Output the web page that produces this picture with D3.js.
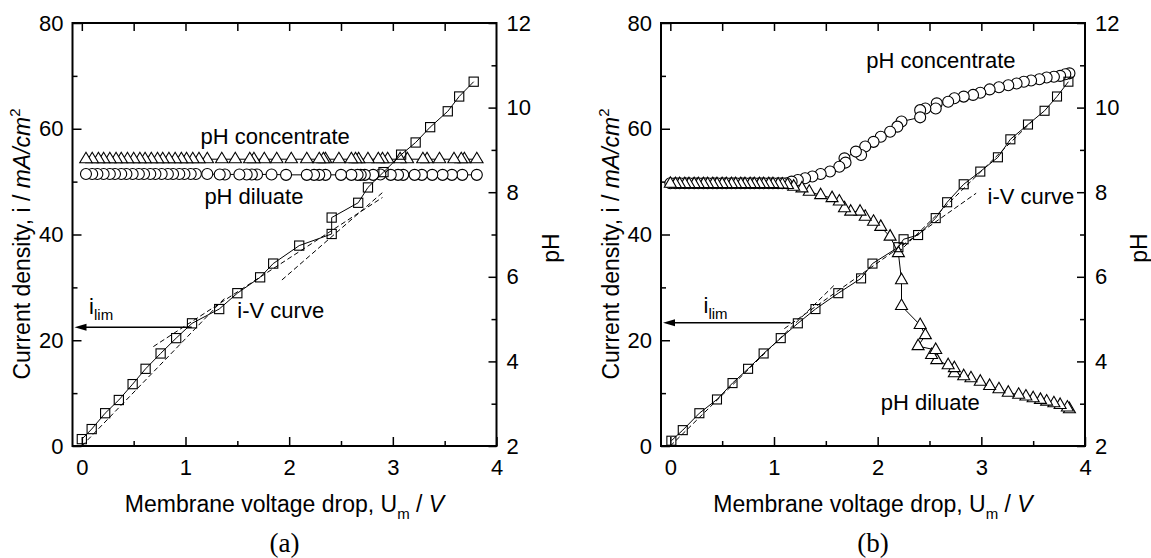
<!DOCTYPE html>
<html>
<head>
<meta charset="utf-8">
<script src="https://cdn.jsdelivr.net/npm/d3@7"></script>
<style>
  body { margin: 0; background: #fff; }
  svg { display: block; font-family: "Liberation Sans", Arial, sans-serif; }
</style>
</head>
<body>
<svg id="chart" width="1151" height="558"></svg>
<script>
// ---- panel (a) data ----
const ivA_U = [0.00, 0.095, 0.225, 0.357, 0.49, 0.615, 0.76, 0.91, 1.063, 1.325, 1.50, 1.72, 1.846, 2.097, 2.41, 2.41, 2.666, 2.76, 2.91, 3.08, 3.22, 3.36, 3.53, 3.64, 3.78]
const ivA_i = [1.3, 3.2, 6.2, 8.7, 11.7, 14.6, 17.5, 20.4, 23.2, 25.9, 28.9, 31.9, 34.5, 37.9, 40.1, 43.2, 46.0, 48.9, 51.8, 55.1, 57.4, 60.3, 63.3, 66.1, 68.9]

const concA_U = [0.04, 0.10, 0.16, 0.21, 0.27, 0.33, 0.38, 0.44, 0.50, 0.56, 0.61, 0.67, 0.73, 0.78, 0.84, 0.90, 0.96, 1.01, 1.07, 1.13,
  1.21, 1.35, 1.48, 1.62, 1.66, 1.76, 1.88, 2.02, 2.17, 2.29, 2.33, 2.35, 2.48, 2.60, 2.64, 2.67, 2.76, 2.86, 2.90, 2.95,
  3.07, 3.14, 3.29, 3.33, 3.45, 3.59, 3.66, 3.69, 3.81]
const concA_pH = [8.78, 8.78, 8.78, 8.78, 8.78, 8.78, 8.78, 8.78, 8.78, 8.78, 8.78, 8.78, 8.78, 8.78, 8.78, 8.78, 8.78, 8.78, 8.78, 8.78,
  8.78, 8.78, 8.78, 8.78, 8.78, 8.78, 8.78, 8.78, 8.78, 8.78, 8.78, 8.78, 8.78, 8.78, 8.78, 8.78, 8.78, 8.78, 8.78, 8.78,
  8.78, 8.78, 8.78, 8.78, 8.78, 8.78, 8.78, 8.78, 8.78]

const dilA_U = [0.04, 0.10, 0.15, 0.21, 0.27, 0.32, 0.38, 0.43, 0.49, 0.55, 0.60, 0.66, 0.71, 0.77, 0.83, 0.88, 0.94, 0.99, 1.05, 1.10,
  1.21, 1.33, 1.38, 1.52, 1.59, 1.64, 1.69, 1.83, 1.97, 2.17, 2.24, 2.29, 2.35, 2.50, 2.60, 2.66, 2.69, 2.73, 2.81, 2.88,
  2.98, 3.05, 3.10, 3.21, 3.28, 3.38, 3.48, 3.57, 3.67, 3.81]
const dilA_pH = [8.43, 8.43, 8.43, 8.43, 8.43, 8.43, 8.43, 8.43, 8.43, 8.43, 8.43, 8.43, 8.43, 8.43, 8.43, 8.43, 8.43, 8.43, 8.43, 8.43,
  8.43, 8.42, 8.42, 8.42, 8.42, 8.42, 8.42, 8.42, 8.41, 8.41, 8.41, 8.41, 8.41, 8.41, 8.41, 8.41, 8.41, 8.41, 8.41, 8.42,
  8.41, 8.41, 8.41, 8.41, 8.41, 8.41, 8.41, 8.41, 8.41, 8.41]

// tangent lines [U0, i0, U1, i1]
const tangentsA = [[0.0, 0.0, 1.38, 28.0], [0.69, 18.8, 2.90, 47.0], [1.93, 31.4, 2.91, 48.1]]
const ilimA = { U: 1.06, i: 22.45 }

// ---- panel (b) data ----
const ivB_U = [0.01, 0.12, 0.28, 0.45, 0.60, 0.75, 0.90, 1.065, 1.23, 1.40, 1.62, 1.84, 1.95, 2.20, 2.25, 2.39, 2.56, 2.67, 2.83, 2.99, 3.16, 3.28, 3.45, 3.61, 3.73, 3.84]
const ivB_i = [1.0, 3.0, 6.2, 8.8, 11.9, 14.6, 17.5, 20.4, 23.2, 25.9, 28.9, 31.7, 34.5, 37.6, 39.1, 39.9, 43.1, 46.1, 49.5, 51.9, 54.6, 58.0, 60.8, 63.4, 66.1, 68.9]

const concB_U = [0.00, 0.05, 0.09, 0.14, 0.18, 0.23, 0.27, 0.32, 0.36, 0.41, 0.45, 0.50, 0.54, 0.59, 0.63, 0.68, 0.72, 0.77, 0.81, 0.86, 0.90, 0.95, 0.99, 1.04, 1.08,
  1.12, 1.17, 1.23, 1.30, 1.37, 1.45, 1.54, 1.63, 1.69, 1.68, 1.79, 1.84, 1.88, 1.96, 2.03, 2.12, 2.19, 2.23, 2.41, 2.41, 2.46, 2.56, 2.57,
  2.68, 2.74, 2.83, 2.92, 2.99, 3.08, 3.17, 3.26, 3.34, 3.41, 3.48, 3.56, 3.63, 3.70, 3.76, 3.81, 3.85]
const concB_pH = [8.21, 8.21, 8.21, 8.21, 8.21, 8.21, 8.21, 8.21, 8.21, 8.21, 8.21, 8.21, 8.21, 8.21, 8.21, 8.21, 8.21, 8.21, 8.21, 8.21, 8.21, 8.21, 8.21, 8.21, 8.21,
  8.21, 8.25, 8.29, 8.33, 8.37, 8.43, 8.49, 8.60, 8.70, 8.80, 8.96, 8.88, 9.08, 9.19, 9.31, 9.43, 9.55, 9.67, 9.77, 9.94, 9.98, 9.98, 10.10,
  10.14, 10.22, 10.26, 10.30, 10.35, 10.43, 10.48, 10.53, 10.57, 10.61, 10.64, 10.67, 10.71, 10.73, 10.75, 10.79, 10.81]

const dilB_U = [0.00, 0.05, 0.09, 0.14, 0.18, 0.23, 0.27, 0.32, 0.36, 0.41, 0.45, 0.50, 0.54, 0.59, 0.63, 0.68, 0.72, 0.77, 0.81, 0.86, 0.90, 0.95, 0.99, 1.04, 1.08, 1.13,
  1.19, 1.27, 1.34, 1.45, 1.56, 1.63, 1.68, 1.74, 1.83, 1.88, 1.96, 2.03, 2.12, 2.20, 2.23, 2.23, 2.41, 2.46, 2.39, 2.56, 2.52, 2.57,
  2.68, 2.74, 2.74, 2.83, 2.90, 2.99, 3.08, 3.17, 3.26, 3.36, 3.43, 3.50, 3.57, 3.63, 3.70, 3.76, 3.83, 3.85]
const dilB_pH = [8.20, 8.19, 8.19, 8.19, 8.19, 8.19, 8.19, 8.19, 8.19, 8.19, 8.19, 8.19, 8.19, 8.19, 8.19, 8.19, 8.19, 8.19, 8.19, 8.19, 8.19, 8.19, 8.19, 8.18, 8.18, 8.17,
  8.13, 8.09, 8.01, 7.93, 7.86, 7.78, 7.62, 7.54, 7.54, 7.42, 7.30, 7.18, 6.95, 6.56, 5.92, 5.31, 4.86, 4.62, 4.36, 4.27, 4.15, 4.03,
  3.91, 3.84, 3.72, 3.65, 3.60, 3.52, 3.42, 3.34, 3.26, 3.21, 3.17, 3.13, 3.09, 3.05, 3.01, 2.97, 2.91, 2.87]

const tangentsB = [[0.0, 0.0, 1.58, 30.4], [1.10, 22.2, 2.95, 47.8], [2.20, 36.6, 3.50, 61.6]]
const ilimB = { U: 1.16, i: 23.3 }

// ---- axis ticks ----
const xMajor = [0, 1, 2, 3, 4]
const xMinor = [0.5, 1.5, 2.5, 3.5]
const xTop = [0, 0.5, 1, 1.5, 2, 2.5, 3, 3.5]
const iMajor = [0, 20, 40, 60, 80]
const iMinor = [10, 30, 50, 70]
const pHMajor = [2, 4, 6, 8, 10, 12]
const pHMinor = [3, 5, 7, 9, 11]

const zip = (a, b) => a.map((v, k) => ({ x: v, y: b[k] }))

const svg = d3.select("#chart")
const FONT = '"Liberation Sans", Arial, sans-serif'

function triPath(w, h) {
  return "M0," + (-2 * h / 3) + "L" + (w / 2) + "," + (h / 3) + "L" + (-w / 2) + "," + (h / 3) + "Z"
}

function drawPanel(p) {
  const x = d3.scaleLinear().domain([-0.09, 4]).range([p.left, p.right])
  const y = d3.scaleLinear().domain([0, 80]).range([p.bottom, p.top])
  const yPH = d3.scaleLinear().domain([2, 12]).range([p.bottom, p.top])

  const g = svg.append("g")

  // axes (inward ticks)
  const axes = [
    [d3.axisBottom(x).tickValues(xMajor).tickSize(-9).tickPadding(13).tickFormat(d3.format("d")), "translate(0," + p.bottom + ")"],
    [d3.axisBottom(x).tickValues(xMinor).tickSize(-5).tickFormat(""), "translate(0," + p.bottom + ")"],
    [d3.axisTop(x).tickValues(xTop).tickSize(-8).tickFormat(""), "translate(0," + p.top + ")"],
    [d3.axisLeft(y).tickValues(iMajor).tickSize(-9).tickPadding(9), "translate(" + p.left + ",0)"],
    [d3.axisLeft(y).tickValues(iMinor).tickSize(-5).tickFormat(""), "translate(" + p.left + ",0)"],
    [d3.axisRight(yPH).tickValues(pHMajor).tickSize(-8).tickPadding(10), "translate(" + p.right + ",0)"],
    [d3.axisRight(yPH).tickValues(pHMinor).tickSize(-5).tickFormat(""), "translate(" + p.right + ",0)"]
  ]
  axes.forEach(([ax, tr]) => {
    const a = g.append("g").attr("transform", tr).call(ax)
    a.select(".domain").remove()
    a.selectAll("line").attr("stroke", "#000").attr("stroke-width", 1.5)
    a.selectAll("text").attr("font-size", 22).attr("font-family", FONT).attr("fill", "#000")
  })

  g.append("rect")
    .attr("x", p.left).attr("y", p.top)
    .attr("width", p.right - p.left).attr("height", p.bottom - p.top)
    .attr("fill", "none").attr("stroke", "#000").attr("stroke-width", 2)

  // tangent lines
  g.selectAll(".tan").data(p.tangents).enter().append("line")
    .attr("x1", d => x(d[0])).attr("y1", d => y(d[1]))
    .attr("x2", d => x(d[2])).attr("y2", d => y(d[3]))
    .attr("stroke", "#000").attr("stroke-width", 1).attr("stroke-dasharray", "5,3")

  const lineI = d3.line().x(d => x(d.x)).y(d => y(d.y))
  const linePH = d3.line().x(d => x(d.x)).y(d => yPH(d.y))

  const conc = zip(p.concU, p.concPH)
  const dil = zip(p.dilU, p.dilPH)
  const iv = zip(p.ivU, p.ivI)

  g.append("path").datum(conc).attr("d", linePH).attr("fill", "none").attr("stroke", "#000").attr("stroke-width", 1)
  g.append("path").datum(dil).attr("d", linePH).attr("fill", "none").attr("stroke", "#000").attr("stroke-width", 1)

  // circles and triangles, drawn right to left so the left markers sit on top
  const circData = p.concIsCircle ? conc : dil
  const triData = p.concIsCircle ? dil : conc
  g.selectAll(".circ").data(circData.slice().reverse()).enter().append("circle")
    .attr("cx", d => x(d.x)).attr("cy", d => yPH(d.y)).attr("r", p.r)
    .attr("fill", "#fff").attr("stroke", "#000").attr("stroke-width", 1.1)

  g.selectAll(".tri").data(triData.slice().reverse()).enter().append("path")
    .attr("d", triPath(p.tw, p.th))
    .attr("transform", d => "translate(" + x(d.x) + "," + yPH(d.y) + ")")
    .attr("fill", "#fff").attr("stroke", "#000").attr("stroke-width", 1.1)

  g.append("path").datum(iv).attr("d", lineI).attr("fill", "none").attr("stroke", "#000").attr("stroke-width", 1)
  g.selectAll(".sq").data(iv).enter().append("rect")
    .attr("x", d => x(d.x) - p.sq / 2).attr("y", d => y(d.y) - p.sq / 2)
    .attr("width", p.sq).attr("height", p.sq)
    .attr("fill", "none").attr("stroke", "#000").attr("stroke-width", 1.1)

  // limiting current arrow
  const ay = y(p.ilim.i)
  g.append("line")
    .attr("x1", x(p.ilim.U)).attr("y1", ay).attr("x2", p.left + 10).attr("y2", ay)
    .attr("stroke", "#000").attr("stroke-width", 1.5)
  g.append("path")
    .attr("d", "M" + (p.left + 2) + "," + ay + "L" + (p.left + 14) + "," + (ay - 3.5) + "L" + (p.left + 14) + "," + (ay + 3.5) + "Z")
    .attr("fill", "#000")

  const ilimText = g.append("text").attr("x", x(p.ilimLabel[0])).attr("y", y(p.ilimLabel[1])).attr("font-size", 22)
  ilimText.append("tspan").text("i")
  ilimText.append("tspan").attr("font-size", 15).attr("dy", 6).text("lim")

  p.notes.forEach(n => {
    g.append("text")
      .attr("x", x(n.U)).attr("y", y(n.i))
      .attr("text-anchor", n.anchor)
      .attr("font-size", 22)
      .text(n.text)
  })

  // axis titles
  const xt = g.append("text").attr("x", (p.left + p.right) / 2).attr("y", 512).attr("text-anchor", "middle").attr("font-size", 23)
  xt.append("tspan").text("Membrane voltage drop, U")
  xt.append("tspan").attr("font-size", 15).attr("dy", 7).text("m")
  xt.append("tspan").attr("dy", -7).text(" / ")
  xt.append("tspan").attr("font-style", "italic").text("V")

  const yt = g.append("text")
    .attr("transform", "translate(" + p.yTitleX + ",244) rotate(-90)")
    .attr("text-anchor", "middle").attr("font-size", 23)
  yt.append("tspan").text("Current density, i / ")
  yt.append("tspan").attr("font-style", "italic").text("mA/cm")
  yt.append("tspan").attr("font-size", 15).attr("dy", -10).text("2")

  g.append("text")
    .attr("transform", "translate(" + p.pHTitleX + ",248) rotate(-90)")
    .attr("text-anchor", "middle").attr("font-size", 23).text("pH")

  g.append("text")
    .attr("x", (p.left + p.right) / 2).attr("y", 552).attr("text-anchor", "middle")
    .attr("font-family", '"Liberation Serif", "Times New Roman", serif').attr("font-size", 27)
    .text(p.tag)
}

drawPanel({
  left: 72.5, right: 496.5, top: 23, bottom: 446,
  ivU: ivA_U, ivI: ivA_i, concU: concA_U, concPH: concA_pH, dilU: dilA_U, dilPH: dilA_pH,
  concIsCircle: false, tangents: tangentsA, ilim: ilimA, ilimLabel: [0.07, 25.0],
  r: 5.5, tw: 12.5, th: 10.5, sq: 9.2,
  notes: [
    { text: "pH concentrate", U: 1.865, i: 57.1, anchor: "middle" },
    { text: "pH diluate", U: 1.66, i: 45.8, anchor: "middle" },
    { text: "i-V curve", U: 1.50, i: 24.2, anchor: "start" }
  ],
  yTitleX: 30, pHTitleX: 559, tag: "(a)"
})

drawPanel({
  left: 661, right: 1085, top: 23, bottom: 446,
  ivU: ivB_U, ivI: ivB_i, concU: concB_U, concPH: concB_pH, dilU: dilB_U, dilPH: dilB_pH,
  concIsCircle: true, tangents: tangentsB, ilim: ilimB, ilimLabel: [0.32, 25.2],
  r: 5.5, tw: 12, th: 10.5, sq: 9,
  notes: [
    { text: "pH concentrate", U: 2.61, i: 71.5, anchor: "middle" },
    { text: "i-V curve", U: 3.06, i: 45.8, anchor: "start" },
    { text: "pH diluate", U: 2.03, i: 6.8, anchor: "start" }
  ],
  yTitleX: 619, pHTitleX: 1147, tag: "(b)"
})
</script>
</body>
</html>
